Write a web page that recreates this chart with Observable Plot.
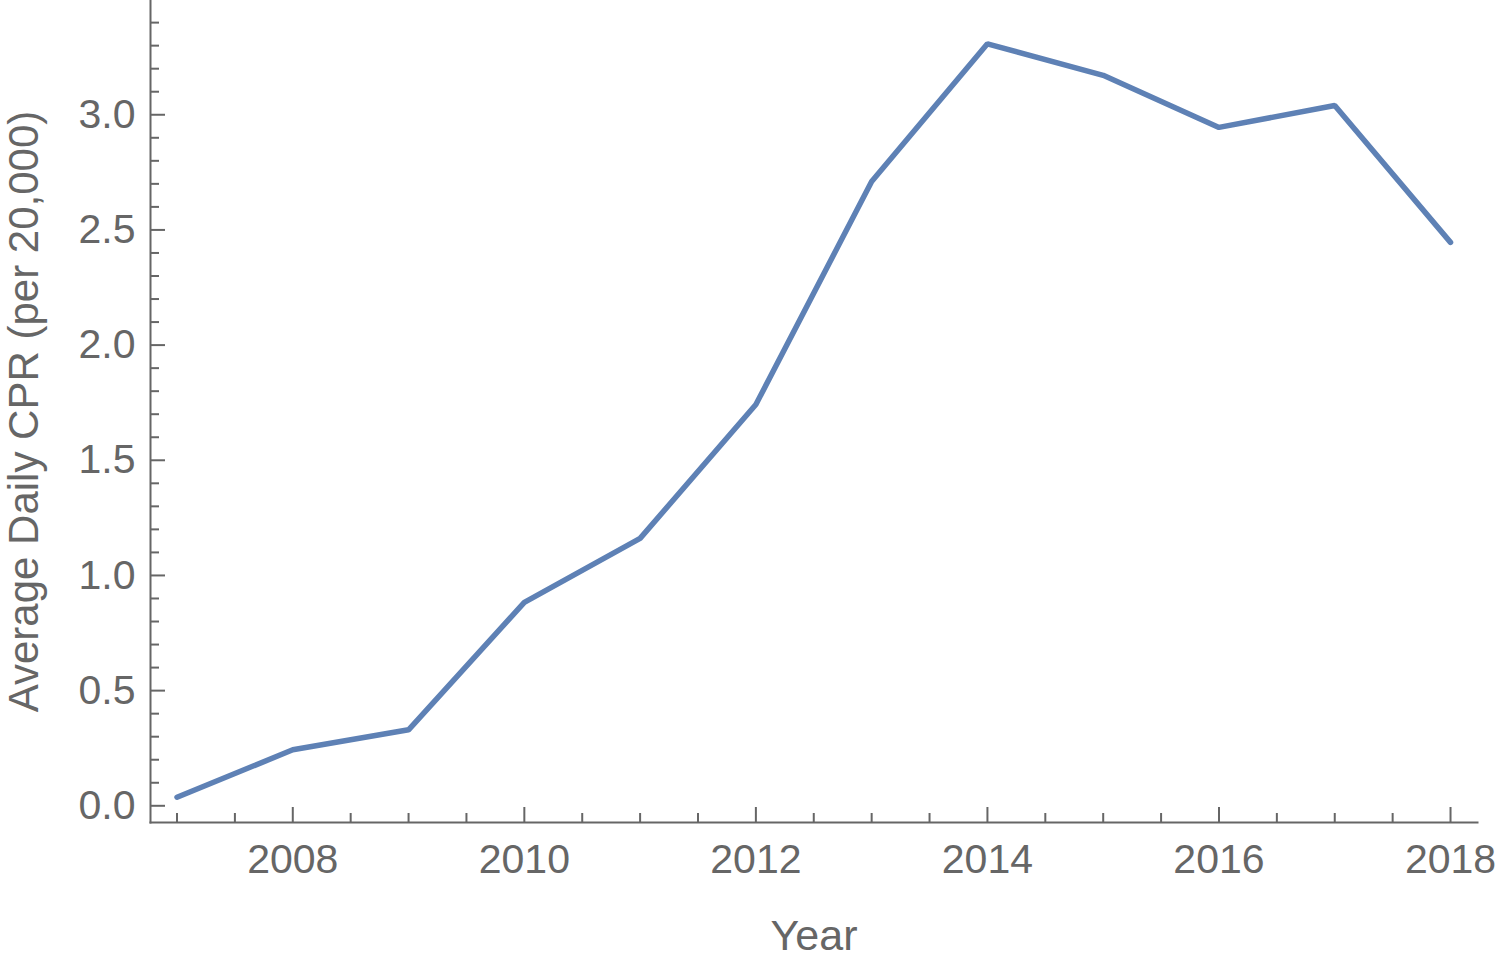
<!DOCTYPE html>
<html>
<head>
<meta charset="utf-8">
<script src="https://cdn.jsdelivr.net/npm/d3@7"></script>
<script src="https://cdn.jsdelivr.net/npm/@observablehq/plot@0.6"></script>
<style>
  html, body { margin: 0; padding: 0; background: #fff; }
  #chart svg { display: block; }
</style>
</head>
<body>
<div id="chart"></div>
<script>
const years = [2007, 2008, 2009, 2010, 2011, 2012, 2013, 2014, 2015, 2016, 2017, 2018];
const cpr = [0.037, 0.243, 0.330, 0.883, 1.161, 1.742, 2.710, 3.308, 3.171, 2.945, 3.040, 2.446];

const xMajorTicks = [2008, 2010, 2012, 2014, 2016, 2018];
const xMinorTicks = [2007, 2007.5, 2008.5, 2009, 2009.5, 2010.5, 2011, 2011.5, 2012.5, 2013, 2013.5,
                     2014.5, 2015, 2015.5, 2016.5, 2017, 2017.5];
const yMajorTicks = [0, 0.5, 1.0, 1.5, 2.0, 2.5, 3.0];
const yMinorTicks = [0.1, 0.2, 0.3, 0.4, 0.6, 0.7, 0.8, 0.9, 1.1, 1.2, 1.3, 1.4, 1.6, 1.7, 1.8, 1.9,
                     2.1, 2.2, 2.3, 2.4, 2.6, 2.7, 2.8, 2.9, 3.1, 3.2, 3.3, 3.4];
const xTitle = "Year";
const yTitle = "Average Daily CPR (per 20,000)";

const data = years.map((y, i) => ({year: y, value: cpr[i]}));

const gray = "#666666";
const font = "'Liberation Sans', Arial, Helvetica, sans-serif";

const chart = Plot.plot({
  width: 1500,
  height: 971,
  marginLeft: 150,
  marginRight: 23,
  marginTop: 0,
  marginBottom: 149,
  style: {fontFamily: font, fontSize: "41px", color: gray, background: "#fff"},
  x: {domain: [2006.771, 2018.233], label: null},
  y: {domain: [-0.0725, 3.496], label: null},
  marks: [
    Plot.frame({anchor: "left", stroke: gray, strokeWidth: 2}),
    Plot.frame({anchor: "bottom", stroke: gray, strokeWidth: 2}),
    Plot.axisX({ticks: xMinorTicks, tickSize: -9, text: null, stroke: gray, strokeWidth: 2, label: null}),
    Plot.axisX({ticks: xMajorTicks, tickSize: -15, tickPadding: 36, tickFormat: d => String(d),
                stroke: gray, strokeWidth: 2, fill: gray, fontSize: 41, label: null}),
    Plot.axisY({ticks: yMinorTicks, tickSize: -9, text: null, stroke: gray, strokeWidth: 2, label: null}),
    Plot.axisY({ticks: yMajorTicks, tickSize: -15, tickPadding: 30, tickFormat: d3.format(".1f"),
                stroke: gray, strokeWidth: 2, fill: gray, fontSize: 41, label: null}),
    Plot.text([xTitle], {frameAnchor: "bottom", dy: 97, lineAnchor: "top", textAnchor: "middle",
                         fill: gray, fontSize: 43}),
    Plot.text([yTitle], {frameAnchor: "left", dx: -142, rotate: -90, lineAnchor: "top", textAnchor: "middle",
                         fill: gray, fontSize: 42}),
    Plot.line(data, {x: "year", y: "value", stroke: "#5e81b5", strokeWidth: 5.5, strokeLinejoin: "miter"})
  ]
});
document.getElementById("chart").appendChild(chart);
</script>
</body>
</html>
